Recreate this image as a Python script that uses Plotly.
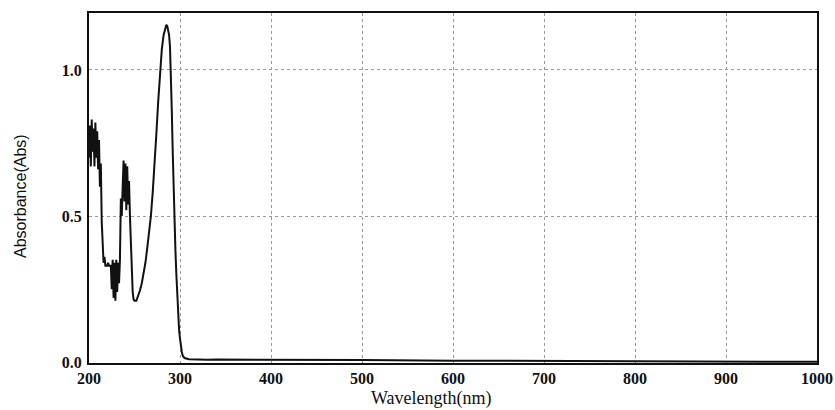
import plotly.graph_objects as go

# UV-Vis absorption spectrum (wavelength in nm, absorbance in Abs)
wavelength = [
    200, 201, 202, 203, 204, 205, 206, 207, 208, 209, 210, 211, 212, 213, 214,
    215, 216, 217, 218, 219, 220, 221, 222, 223, 224, 225, 226, 227, 228, 229,
    230, 231, 232, 233, 234, 235, 236, 237, 238, 239, 240, 241, 242, 243, 244,
    245, 246, 247, 248, 249, 250, 252, 254, 256, 258, 260, 262, 264, 266, 268,
    270, 272, 274, 276, 278, 280, 282, 284, 285, 286, 288, 289, 290, 291, 292,
    293, 294, 295, 296, 297, 298, 299, 300, 301, 302, 303, 305, 310, 320, 330,
    340, 360, 400, 420, 500, 600, 700, 800, 900, 1000,
]
absorbance = [
    0.70, 0.81, 0.67, 0.83, 0.72, 0.80, 0.67, 0.82, 0.70, 0.79, 0.66, 0.76, 0.60, 0.68, 0.48,
    0.40, 0.34, 0.36, 0.33, 0.33, 0.33, 0.34, 0.33, 0.33, 0.33, 0.25, 0.35, 0.22, 0.34, 0.21,
    0.35, 0.24, 0.34, 0.27, 0.35, 0.56, 0.50, 0.60, 0.69, 0.55, 0.68, 0.52, 0.67, 0.54, 0.62,
    0.50, 0.40, 0.30, 0.24, 0.215, 0.21, 0.21, 0.225, 0.245, 0.27, 0.30, 0.34, 0.39, 0.44, 0.50,
    0.58, 0.67, 0.78, 0.89, 0.99, 1.07, 1.12, 1.15, 1.155, 1.15, 1.12, 1.08, 1.00, 0.86, 0.72,
    0.58, 0.46, 0.38, 0.30, 0.22, 0.16, 0.11, 0.08, 0.05, 0.035, 0.022, 0.014, 0.010, 0.008, 0.008,
    0.009, 0.009, 0.009, 0.008, 0.007, 0.005, 0.004, 0.003, 0.002, 0.001,
]

x_ticks = [200, 300, 400, 500, 600, 700, 800, 900, 1000]
y_ticks = [0.0, 0.5, 1.0]

serif = "Liberation Serif, Times New Roman, serif"
sans = "Liberation Sans, Arial, sans-serif"

fig = go.Figure()
fig.add_trace(go.Scatter(
    x=wavelength, y=absorbance, mode="lines",
    line=dict(color="#111111", width=2),
    showlegend=False,
))

fig.update_layout(
    width=835, height=410,
    margin=dict(l=89, r=18, t=13, b=47),
    paper_bgcolor="white", plot_bgcolor="white",
    font=dict(family=serif, color="#111111", size=14),
    xaxis=dict(
        range=[200, 1000], tickvals=x_ticks, ticktext=[str(v) for v in x_ticks],
        showgrid=True, gridcolor="#9a9a9a", griddash="dot", gridwidth=1,
        zeroline=False, showline=True, linecolor="#111111", linewidth=2,
        mirror=True, ticks="", ticklabelstandoff=0, automargin=False,
        tickfont=dict(family=serif, size=16, color="#111111", weight="bold"),
    ),
    yaxis=dict(
        range=[-0.003, 1.195], tickvals=y_ticks, ticktext=["0.0", "0.5", "1.0"],
        showgrid=True, gridcolor="#9a9a9a", griddash="dot", gridwidth=1,
        zeroline=False, showline=True, linecolor="#111111", linewidth=2,
        mirror=True, ticks="", ticklabelstandoff=2, automargin=False,
        tickfont=dict(family=serif, size=16, color="#111111", weight="bold"),
    ),
    annotations=[
        dict(text="Wavelength(nm)", xref="paper", yref="paper",
             x=(431 - 89) / 728, y=-(399 - 363) / 350, xanchor="center", yanchor="middle",
             showarrow=False, font=dict(family=serif, size=18, color="#111111")),
        dict(text="Absorbance(Abs)", xref="paper", yref="paper",
             x=-(89 - 20) / 728, y=(363 - 196) / 350, xanchor="center", yanchor="middle",
             showarrow=False, textangle=-90,
             font=dict(family=sans, size=16, color="#111111")),
    ],
)

fig.write_html("out.html")
